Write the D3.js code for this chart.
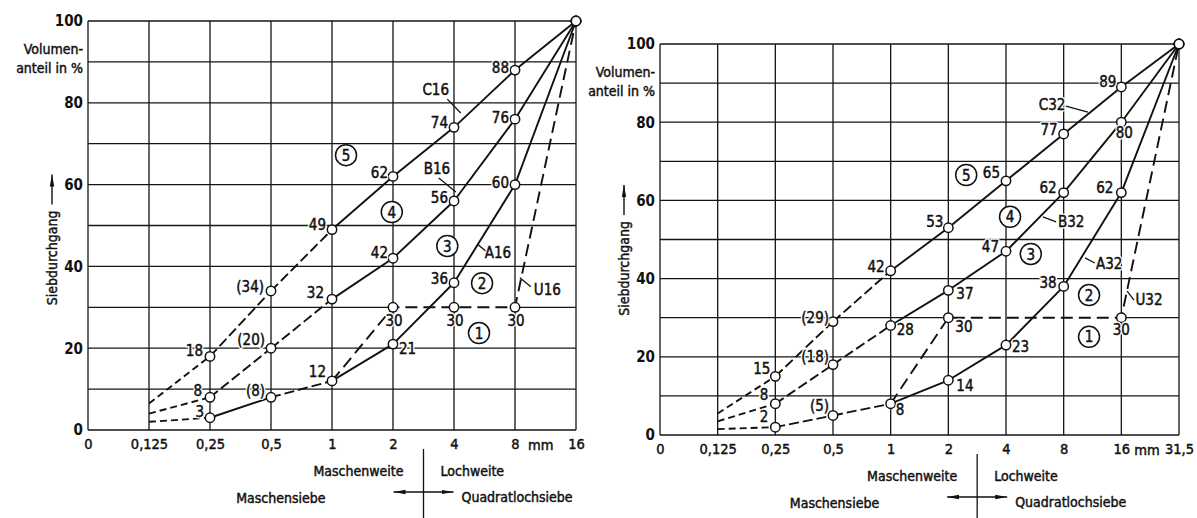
<!DOCTYPE html>
<html><head><meta charset="utf-8">
<script src="https://cdn.jsdelivr.net/npm/d3@7"></script>
<style>
body{margin:0;background:#fff}
svg text{font-family:"DejaVu Sans Condensed","DejaVu Sans",sans-serif;font-stretch:condensed;fill:#111}
svg text.ink{stroke:#111;stroke-width:0.45px}
</style></head><body>
<svg id="chart" width="1197" height="518"></svg>
<script>
// ---------- data ----------
const sieves16 = ["0","0,125","0,25","0,5","1","2","4","8","16"];
const sieves32 = ["0","0,125","0,25","0,5","1","2","4","8","16","31,5"];
const yTicks = [0,20,40,60,80,100];
const curveSieves16 = ["0,125","0,25","0,5","1","2","4","8","16"];
const curveSieves32 = ["0,125","0,25","0,5","1","2","4","8","16","31,5"];
const A16 = [2,3,8,12,21,36,60,100];
const B16 = [4,8,20,32,42,56,76,100];
const C16 = [6.5,18,34,49,62,74,88,100];
const U16Sieves = ["1","2","4","8","16"];
const U16 = [12,30,30,30,100];
const A32 = [1.5,2,5,8,14,23,38,62,100];
const B32 = [3.5,8,18,28,37,47,62,80,100];
const C32 = [5.5,15,29,42,53,65,77,89,100];
const U32Sieves = ["1","2","16","31,5"];
const U32 = [8,30,30,100];

// ---------- layout / style ----------
const svg = d3.select("#chart");
const defs = svg.append("defs");
defs.append("marker").attr("id","ah").attr("viewBox","0 0 12 6").attr("refX",12).attr("refY",3)
  .attr("markerWidth",12).attr("markerHeight",6).attr("markerUnits","userSpaceOnUse").attr("orient","auto-start-reverse")
  .append("path").attr("d","M0,0.8 L12,3 L0,5.2 Z").attr("fill","#111");

const panels = [
  {frame:{x0:88,x1:576,y0:430,y1:21}, cats:sieves16, curveCats:curveSieves16,
   series:[{name:"A16",v:A16},{name:"B16",v:B16},{name:"C16",v:C16}],
   U:{name:"U16",s:U16Sieves,v:U16},
   labelOff:{
     "A16-2":["end",-6,-6],"A16-3":["end",-6,-7],"A16-4":["end",-6,-9],"A16-5":["start",6,5],"A16-6":["end",-6,-4],"A16-7":["end",-6,-2],
     "B16-2":["end",-8,-7],"B16-3":["end",-6,-8],"B16-4":["end",-8,-6],"B16-5":["end",-5,-5],"B16-6":["end",-6,-3],"B16-7":["end",-6,-1],
     "C16-2":["end",-7,-6],"C16-3":["end",-7,-4],"C16-4":["end",-6,-5],"C16-5":["end",-5,-4],"C16-6":["end",-6,-5],"C16-7":["end",-6,-2],
     "U16-5":["middle",1,13],"U16-6":["middle",1,13],"U16-7":["middle",1,13]},
   solidSeg:{"A16":[1]},
   names:[{t:"C16",at:[5.70,83.1],l:[[5.89,80.9],[6.11,77.5]]},
          {t:"B16",at:[5.72,63.8],l:[[5.75,61.6],[6.03,58.2]]},
          {t:"A16",at:[6.72,43.3],l:[[6.38,45.5],[6.54,43.5]]},
          {t:"U16",at:[7.53,34.2],l:[[7.08,37.2],[7.26,35.0]]}],
   zones:[[4.23,67.2,"5"],[4.98,53.3,"4"],[5.89,45,"3"],[6.46,35.9,"2"],[6.41,23.7,"1"]],
   mmAfter:"8"},
  {frame:{x0:660,x1:1179,y0:435,y1:44}, cats:sieves32, curveCats:curveSieves32,
   series:[{name:"A32",v:A32},{name:"B32",v:B32},{name:"C32",v:C32}],
   U:{name:"U32",s:U32Sieves,v:U32},
   labelOff:{
     "A32-2":["end",-7,-10],"A32-3":["end",-4,-10],"A32-4":["start",5,6],"A32-5":["start",8,5],"A32-6":["start",6,2],"A32-7":["end",-7,-4],"A32-8":["end",-8,-5],
     "B32-2":["end",-7,-9],"B32-3":["end",-4,-8],"B32-4":["start",6,4],"B32-5":["start",8,3],"B32-6":["end",-7,-4],"B32-7":["end",-7,-5],"B32-8":["middle",3,11],
     "C32-2":["end",-5,-8],"C32-3":["end",-4,-4],"C32-4":["end",-6,-4],"C32-5":["end",-5,-6],"C32-6":["end",-6,-8],"C32-7":["end",-6,-4],"C32-8":["end",-5,-5],
     "U32-5":["start",7,9],"U32-8":["middle",0,12]},
   solidSeg:{},
   names:[{t:"C32",at:[6.80,84.4],l:[[7.04,84.1],[7.42,82.6]]},
          {t:"B32",at:[7.13,54.5],l:[[6.64,55.8],[6.87,54.5]]},
          {t:"A32",at:[7.79,43.7],l:[[7.37,45.3],[7.54,44.0]]},
          {t:"U32",at:[8.48,34.5],l:[[8.10,36.8],[8.22,34.5]]}],
   zones:[[5.31,66.5,"5"],[6.07,55.8,"4"],[6.43,46.3,"3"],[7.44,35.8,"2"],[7.44,25.1,"1"]],
   mmAfter:"16"}
];

// text with optional white halo underneath, then an inked copy on top
function txt(g, x, y, s, opt={}){
  const size = opt.size || 14, anchor = opt.anchor || "start";
  if (opt.halo) {
    g.append("text").attr("x",x).attr("y",y).attr("dy","0.35em").attr("text-anchor",anchor).attr("font-size",size)
      .attr("fill","#fff").attr("stroke","#fff").attr("stroke-width",opt.halo).attr("stroke-linejoin","round").text(s);
  }
  return g.append("text").attr("class","ink").attr("x",x).attr("y",y).attr("dy","0.35em").attr("text-anchor",anchor)
    .attr("font-size",size).attr("font-weight",opt.weight||null).text(s);
}

panels.forEach(p => {
  const f = p.frame, n = p.cats.length;
  const x = d3.scaleLinear().domain([0, n-1]).range([f.x0, f.x1]);
  const y = d3.scaleLinear().domain([0, 100]).range([f.y0, f.y1]);
  const xi = c => p.cats.indexOf(c);
  const g = svg.append("g");
  const UP = p.U.v.map((v,i)=>({i:xi(p.U.s[i]), v}));

  // grid (the horizontal grid line is left out where the dashed U line runs along it)
  const gaps = [];
  for (let k=0;k<UP.length-1;k++) if (UP[k].v===UP[k+1].v) gaps.push([UP[k].i, UP[k+1].i, UP[k].v]);
  const hSegs = [];
  d3.range(0,101,10).forEach(v=>{
    let start = 0;
    gaps.filter(gp=>gp[2]===v).sort((a,b)=>a[0]-b[0]).forEach(gp=>{ hSegs.push([start,gp[0],v]); start = gp[1]; });
    hSegs.push([start,n-1,v]);
  });
  const grid = g.append("g").attr("stroke","#151515").attr("stroke-width",1.3);
  grid.selectAll("line.h").data(hSegs).join("line")
    .attr("x1",d=>x(d[0])).attr("x2",d=>x(d[1])).attr("y1",d=>y(d[2])).attr("y2",d=>y(d[2]));
  grid.selectAll("line.v").data(d3.range(n)).join("line")
    .attr("x1",d=>x(d)).attr("x2",d=>x(d)).attr("y1",y(0)).attr("y2",y(100));

  // axes
  const ax = g.append("g").attr("transform",`translate(0,${f.y0})`)
    .call(d3.axisBottom(x).tickValues(d3.range(n)).tickFormat(i=>p.cats[i]).tickSize(0).tickPadding(9));
  ax.select(".domain").remove();
  ax.selectAll("text").attr("class","ink").attr("font-size",14.5).attr("font-family",null);
  const ay = g.append("g").attr("transform",`translate(${f.x0},0)`)
    .call(d3.axisLeft(y).tickValues(yTicks).tickSize(0).tickPadding(5));
  ay.select(".domain").remove();
  ay.selectAll("text").attr("font-size",15).attr("font-family",null).attr("font-weight","bold");
  txt(g, x(xi(p.mmAfter))+13, f.y0+15, "mm", {size:14.5});

  // y title
  txt(g, f.x0-5, y(100)+28, "Volumen-", {anchor:"end"});
  txt(g, f.x0-5, y(100)+47, "anteil in %", {anchor:"end"});
  const tx = f.x0-36, ty = y(30.5);
  const yt = g.append("text").attr("class","ink").attr("transform",`translate(${tx},${ty}) rotate(-90)`).attr("dy","0.35em")
    .attr("font-size",14).text("Siebdurchgang");
  const L = yt.node().getComputedTextLength();
  g.append("line").attr("x1",tx).attr("x2",tx).attr("y1",ty-L-6).attr("y2",ty-L-36)
    .attr("stroke","#111").attr("stroke-width",1.4).attr("marker-end","url(#ah)");

  // bottom annotations
  const dv = x(5.5);
  g.append("line").attr("x1",dv).attr("x2",dv).attr("y1",f.y0+19).attr("y2",518).attr("stroke","#111").attr("stroke-width",1.3);
  txt(g, dv-20, f.y0+41, "Maschenweite", {anchor:"end"});
  txt(g, dv+17, f.y0+41, "Lochweite");
  g.append("line").attr("x1",dv-30).attr("x2",dv+30).attr("y1",f.y0+62).attr("y2",f.y0+62)
    .attr("stroke","#111").attr("stroke-width",1.4).attr("marker-start","url(#ah)").attr("marker-end","url(#ah)");
  txt(g, dv-98, f.y0+68, "Maschensiebe", {anchor:"end"});
  txt(g, dv+38, f.y0+67, "Quadratlochsiebe");

  // curves
  const lines = g.append("g").attr("fill","none").attr("stroke","#111").attr("stroke-width",1.9);
  const pts = [];
  const labels = [];
  p.series.forEach(s => {
    const P = s.v.map((v,i)=>({i:xi(p.curveCats[i]), v}));
    for (let k=0;k<P.length-1;k++){
      let dash = null;
      if (k===0) dash = "7,4";
      else if ((k===1 || k===2) && !((p.solidSeg[s.name]||[]).includes(k))) dash = "10,4";
      lines.append("line").attr("x1",x(P[k].i)).attr("y1",y(P[k].v)).attr("x2",x(P[k+1].i)).attr("y2",y(P[k+1].v))
        .attr("stroke-dasharray",dash);
    }
    P.forEach((d,k)=>{
      if (k===0) return;
      pts.push(d);
      if (d.v<100) labels.push({key:s.name+"-"+d.i, d, t: d.i===3 ? "("+d.v+")" : String(d.v)});
    });
  });
  lines.append("path").attr("d", d3.line().x(d=>x(d.i)).y(d=>y(d.v))(UP)).attr("stroke-dasharray","12,6");
  UP.forEach((d,k)=>{ if(k>0){ pts.push(d); if(d.v<100) labels.push({key:p.U.name+"-"+d.i, d, t:String(d.v)}); } });

  // series names with leader lines
  p.names.forEach(nm=>{
    g.append("line").attr("x1",x(nm.l[0][0])).attr("y1",y(nm.l[0][1])).attr("x2",x(nm.l[1][0])).attr("y2",y(nm.l[1][1]))
      .attr("stroke","#111").attr("stroke-width",1.3);
    txt(g, x(nm.at[0]), y(nm.at[1]), nm.t, {anchor:"middle", size:15, halo:3});
  });

  // points
  g.append("g").selectAll("circle").data(pts).join("circle")
    .attr("cx",d=>x(d.i)).attr("cy",d=>y(d.v)).attr("r",4.7)
    .attr("fill","#fff").attr("stroke","#111").attr("stroke-width",1.5);

  // value labels
  labels.forEach(lb=>{
    const o = p.labelOff[lb.key] || ["end",-6,-4];
    txt(g, x(lb.d.i)+o[1], y(lb.d.v)+o[2], lb.t, {anchor:o[0], size:15, halo:3});
  });

  // zone numbers
  p.zones.forEach(z=>{
    g.append("circle").attr("cx",x(z[0])).attr("cy",y(z[1])).attr("r",10.5)
      .attr("fill","#fff").attr("stroke","#111").attr("stroke-width",1.5);
    txt(g, x(z[0]), y(z[1])+0.3, z[2], {anchor:"middle", size:15});
  });
});
</script>
</body></html>
